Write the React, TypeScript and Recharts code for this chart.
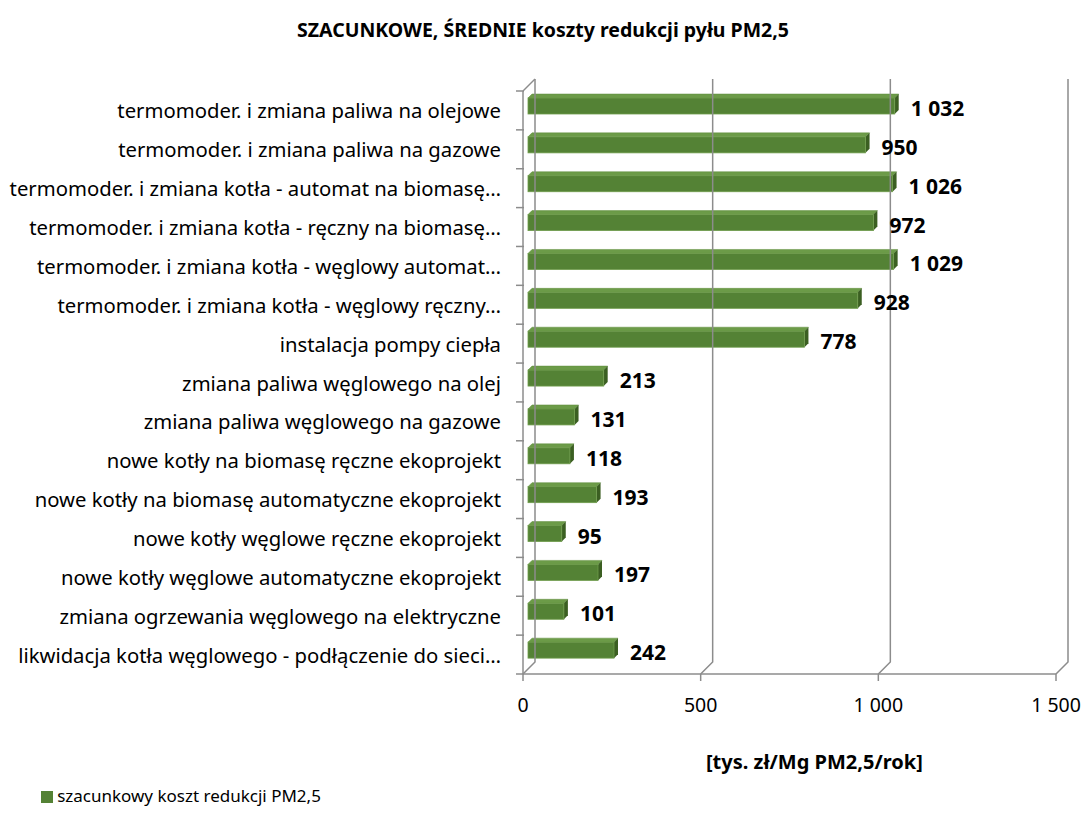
import React from "react";
import { BarChart, Bar, XAxis, YAxis, Legend, ReferenceLine, LabelList } from "recharts";

const categories = [
  "termomoder. i zmiana paliwa na olejowe",
  "termomoder. i zmiana paliwa na gazowe",
  "termomoder. i zmiana kotła - automat na biomasę…",
  "termomoder. i zmiana kotła - ręczny na biomasę…",
  "termomoder. i zmiana kotła - węglowy automat…",
  "termomoder. i zmiana kotła - węglowy ręczny…",
  "instalacja pompy ciepła",
  "zmiana paliwa węglowego na olej",
  "zmiana paliwa węglowego na gazowe",
  "nowe kotły na biomasę ręczne ekoprojekt",
  "nowe kotły na biomasę automatyczne ekoprojekt",
  "nowe kotły węglowe ręczne ekoprojekt",
  "nowe kotły węglowe automatyczne ekoprojekt",
  "zmiana ogrzewania węglowego na elektryczne",
  "likwidacja kotła węglowego - podłączenie do sieci…",
];
const costs = [1032, 950, 1026, 972, 1029, 928, 778, 213, 131, 118, 193, 95, 197, 101, 242];
const xTicks = [0, 500, 1000, 1500];

const data = categories.map((name, i) => ({ name, koszt: costs[i] }));

const W = 1086;
const H = 816;
const TOP = 91;
const PLOT_BOTTOM = 674;
const XAXIS_H = 40;
const HALF_BAND = (PLOT_BOTTOM - TOP) / categories.length / 2;
const DEPTH = 12;
const FONT = "'Noto Sans', sans-serif";
const GRID = "#8c8c8c";

const fmt = (v: number) => String(v).replace(/\B(?=(\d{3})+(?!\d))/g, " ");

// 3D-ish bar: front face + top + right side
const Bar3D = (props: any) => {
  const { x, y, width, height } = props;
  const ox = 5;
  const oy = -4;
  const d = 4;
  const fx = x + ox;
  const fy = y + oy;
  return (
    <g>
      <polygon
        points={`${fx},${fy} ${fx + d},${fy - d} ${fx + width + d},${fy - d} ${fx + width},${fy}`}
        fill="#6c9b48"
        stroke="#5e8c3c"
        strokeWidth={0.5}
      />
      <polygon
        points={`${fx + width},${fy} ${fx + width + d},${fy - d} ${fx + width + d},${fy + height - d} ${fx + width},${fy + height}`}
        fill="#3b5f22"
      />
      <rect x={fx} y={fy} width={width} height={height} fill="#548235" stroke="#6f9c4c" strokeWidth={0.8} />
    </g>
  );
};

const YTick = (props: any) => {
  const { x, y, payload, index } = props;
  const ax = x + 9;
  return (
    <g>
      <line x1={ax - 8} x2={ax} y1={y - HALF_BAND} y2={y - HALF_BAND} stroke={GRID} strokeWidth={1.5} />
      {index === categories.length - 1 && (
        <line x1={ax - 8} x2={ax} y1={y + HALF_BAND} y2={y + HALF_BAND} stroke={GRID} strokeWidth={1.5} />
      )}
      <text x={x - 14} y={y} textAnchor="end" dominantBaseline="central" fontSize={20.3} fill="#000" fontFamily={FONT}>
        {payload.value}
      </text>
    </g>
  );
};

const XTick = (props: any) => {
  const { x, y, payload } = props;
  return (
    <text x={x} y={y + 29} textAnchor="middle" fontSize={19.5} fill="#000" fontFamily={FONT}>
      {fmt(payload.value)}
    </text>
  );
};

// back-wall gridline with diagonal link to the floor
const WallLine = (props: any) => {
  const { x1 } = props;
  const top = Math.min(props.y1, props.y2);
  const bottom = Math.max(props.y1, props.y2);
  return (
    <path
      d={`M${x1},${bottom} L${x1 + DEPTH},${bottom - DEPTH} L${x1 + DEPTH},${top - DEPTH}`}
      fill="none"
      stroke={GRID}
      strokeWidth={1.5}
    />
  );
};

const WallCorner = (props: any) => {
  const top = Math.min(props.y1, props.y2);
  return (
    <path d={`M${props.x1},${top} L${props.x1 + DEPTH},${top - DEPTH}`} fill="none" stroke={GRID} strokeWidth={1.5} />
  );
};

const ValueLabel = (props: any) => {
  const { x, y, width, height, value } = props;
  return (
    <text
      x={x + width + 21}
      y={y + height / 2 - 2}
      dominantBaseline="central"
      fontSize={21}
      fontWeight="bold"
      fill="#000"
      fontFamily={FONT}
    >
      {fmt(value)}
    </text>
  );
};

export default function App() {
  return (
    <div style={{ position: "absolute", left: 0, top: 0, width: W, height: H, background: "#fff", fontFamily: FONT }}>
      <div
        style={{
          position: "absolute",
          top: 16,
          left: 0,
          width: W,
          textAlign: "center",
          fontWeight: "bold",
          fontSize: 19.5,
        }}
      >
        SZACUNKOWE, ŚREDNIE koszty redukcji pyłu PM2,5
      </div>
      <div style={{ position: "absolute", left: 706, top: 748, fontWeight: "bold", fontSize: 20 }}>
        [tys. zł/Mg PM2,5/rok]
      </div>
      <BarChart
        width={W}
        height={H}
        data={data}
        layout="vertical"
        margin={{ top: TOP, right: 30, left: 0, bottom: H - PLOT_BOTTOM - XAXIS_H }}
        barSize={16}
      >
        <XAxis
          type="number"
          domain={[0, 1500]}
          ticks={xTicks}
          height={XAXIS_H}
          tick={<XTick />}
          axisLine={{ stroke: GRID, strokeWidth: 1.5 }}
          tickLine={{ stroke: GRID, strokeWidth: 1.5 }}
          tickSize={7}
        />
        <YAxis
          type="category"
          dataKey="name"
          width={523}
          interval={0}
          tick={<YTick />}
          tickLine={false}
          axisLine={{ stroke: GRID, strokeWidth: 1.5 }}
        />
        {xTicks.map((t) => (
          <ReferenceLine key={t} x={t} shape={<WallLine />} />
        ))}
        <ReferenceLine x={0} shape={<WallCorner />} />
        <Bar dataKey="koszt" name="szacunkowy koszt redukcji PM2,5" fill="#548235" shape={<Bar3D />} isAnimationActive={false}>
          <LabelList dataKey="koszt" content={<ValueLabel />} />
        </Bar>
        <Legend
          layout="horizontal"
          align="center"
          verticalAlign="middle"
          iconType="square"
          iconSize={12}
          wrapperStyle={{ left: 40, top: 784, width: 292, fontSize: 17 }}
          formatter={(v: string) => <span style={{ color: "#000" }}>{v}</span>}
        />
      </BarChart>
    </div>
  );
}
